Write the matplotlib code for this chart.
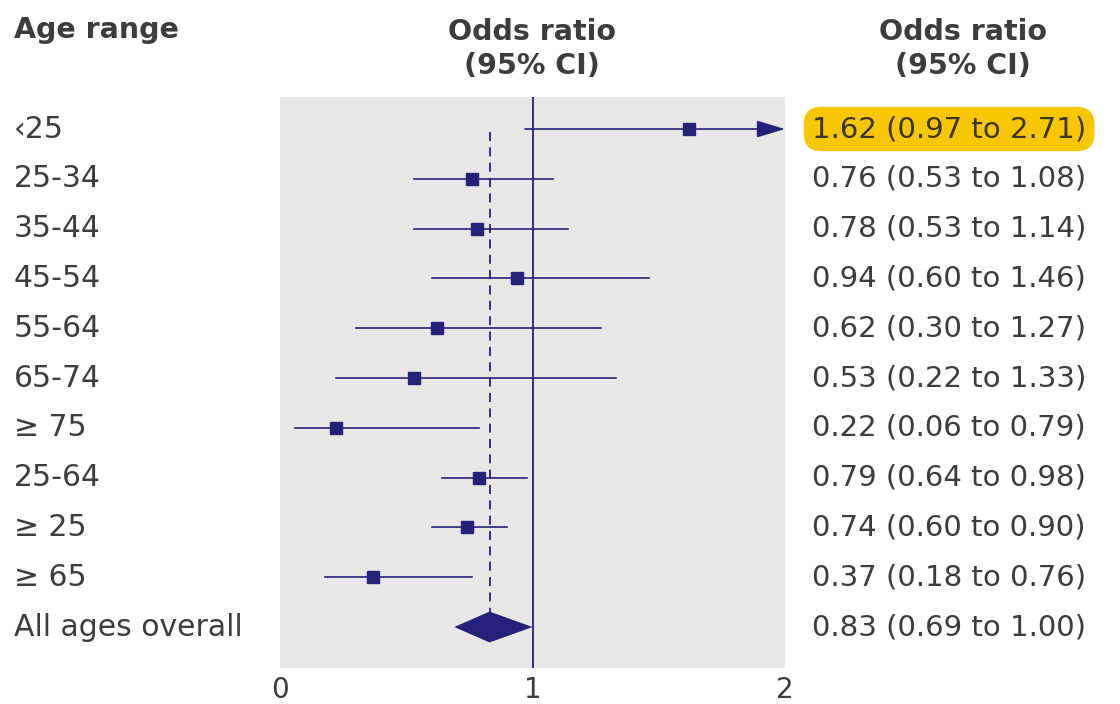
import matplotlib
matplotlib.use("Agg")
import matplotlib.pyplot as plt
from matplotlib.patches import FancyArrowPatch
import matplotlib.transforms as mtransforms

labels = ["‹25", "25-34", "35-44", "45-54", "55-64", "65-74", "≥ 75",
          "25-64", "≥ 25", "≥ 65", "All ages overall"]
odds = [1.62, 0.76, 0.78, 0.94, 0.62, 0.53, 0.22, 0.79, 0.74, 0.37, 0.83]
lower = [0.97, 0.53, 0.53, 0.60, 0.30, 0.22, 0.06, 0.64, 0.60, 0.18, 0.69]
upper = [2.71, 1.08, 1.14, 1.46, 1.27, 1.33, 0.79, 0.98, 0.90, 0.76, 1.00]
xticks = [0, 1, 2]

NAVY = "#25207a"
GRAY = "#e8e7e6"
TEXT = "#3c3c3c"
YELLOW = "#f8c700"

plt.rcParams['font.family'] = ['DejaVu Sans']

W, H = 1120, 704
fig = plt.figure(figsize=(W / 100, H / 100), dpi=100)
x0, x1 = 280, 785
y0, y1 = 97, 668
ax = fig.add_axes([x0 / W, 1 - y1 / H, (x1 - x0) / W, (y1 - y0) / H])
ax.set_facecolor(GRAY)
for s in ax.spines.values():
    s.set_visible(False)
ax.set_xlim(0, 2)
n = len(labels)
ax.set_ylim(n - 1 + 0.823, -0.643)
ax.set_yticks([])
ax.set_xticks(xticks)
ax.set_xticklabels([str(t) for t in xticks], fontsize=20, color=TEXT)
ax.tick_params(axis='x', length=0, pad=6)

# reference line at 1
ax.axvline(1, color=NAVY, lw=1.3, zorder=2)

overall = n - 1
# dashed line at overall estimate
ax.plot([odds[overall], odds[overall]], [0.06, overall - 0.31], color=NAVY,
        lw=1.3, dashes=(5, 3.5), zorder=2)

for i in range(n - 1):
    lo, hi = lower[i], upper[i]
    if hi > 2:
        arr = FancyArrowPatch((lo, i), (2.0, i),
                              arrowstyle="-|>,head_length=8,head_width=2.4",
                              color=NAVY, lw=1.2, shrinkA=0, shrinkB=0,
                              mutation_scale=2.2, zorder=3)
        ax.add_patch(arr)
    else:
        ax.plot([lo, hi], [i, i], color=NAVY, lw=1.2, zorder=3)
    ax.plot(odds[i], i, marker='s', ms=8.5, color=NAVY, zorder=4)

# diamond
dh = 0.31
ax.fill([lower[overall], odds[overall], upper[overall], odds[overall]],
        [overall, overall - dh, overall, overall + dh], color=NAVY, zorder=4,
        lw=0)

# left labels and right text
trans = mtransforms.blended_transform_factory(fig.transFigure, ax.transData)
for i in range(n):
    ax.text(14 / W, i, labels[i], transform=trans, fontsize=21.5, color=TEXT,
            ha='left', va='center', clip_on=False)
    s = f"{odds[i]:.2f} ({lower[i]:.2f} to {upper[i]:.2f})"
    if i == 0:
        ax.text(812 / W, i, s, transform=trans, fontsize=21, color="#3a3520",
                ha='left', va='center', clip_on=False,
                bbox=dict(boxstyle="round,pad=0.28,rounding_size=0.6",
                          fc=YELLOW, ec='none'))
    else:
        ax.text(812 / W, i, s, transform=trans, fontsize=21, color=TEXT,
                ha='left', va='center', clip_on=False)

# headers
fig.text(14 / W, 1 - 30 / H, "Age range", fontsize=20.5, fontweight='bold',
         color=TEXT, ha='left', va='center')
fig.text(532 / W, 1 - 49 / H, "Odds ratio\n(95% CI)", fontsize=20.5,
         fontweight='bold', color=TEXT, ha='center', va='center',
         linespacing=1.3)
fig.text(963 / W, 1 - 49 / H, "Odds ratio\n(95% CI)", fontsize=20.5,
         fontweight='bold', color=TEXT, ha='center', va='center',
         linespacing=1.3)

fig.savefig("out.png", dpi=100, facecolor='white')
